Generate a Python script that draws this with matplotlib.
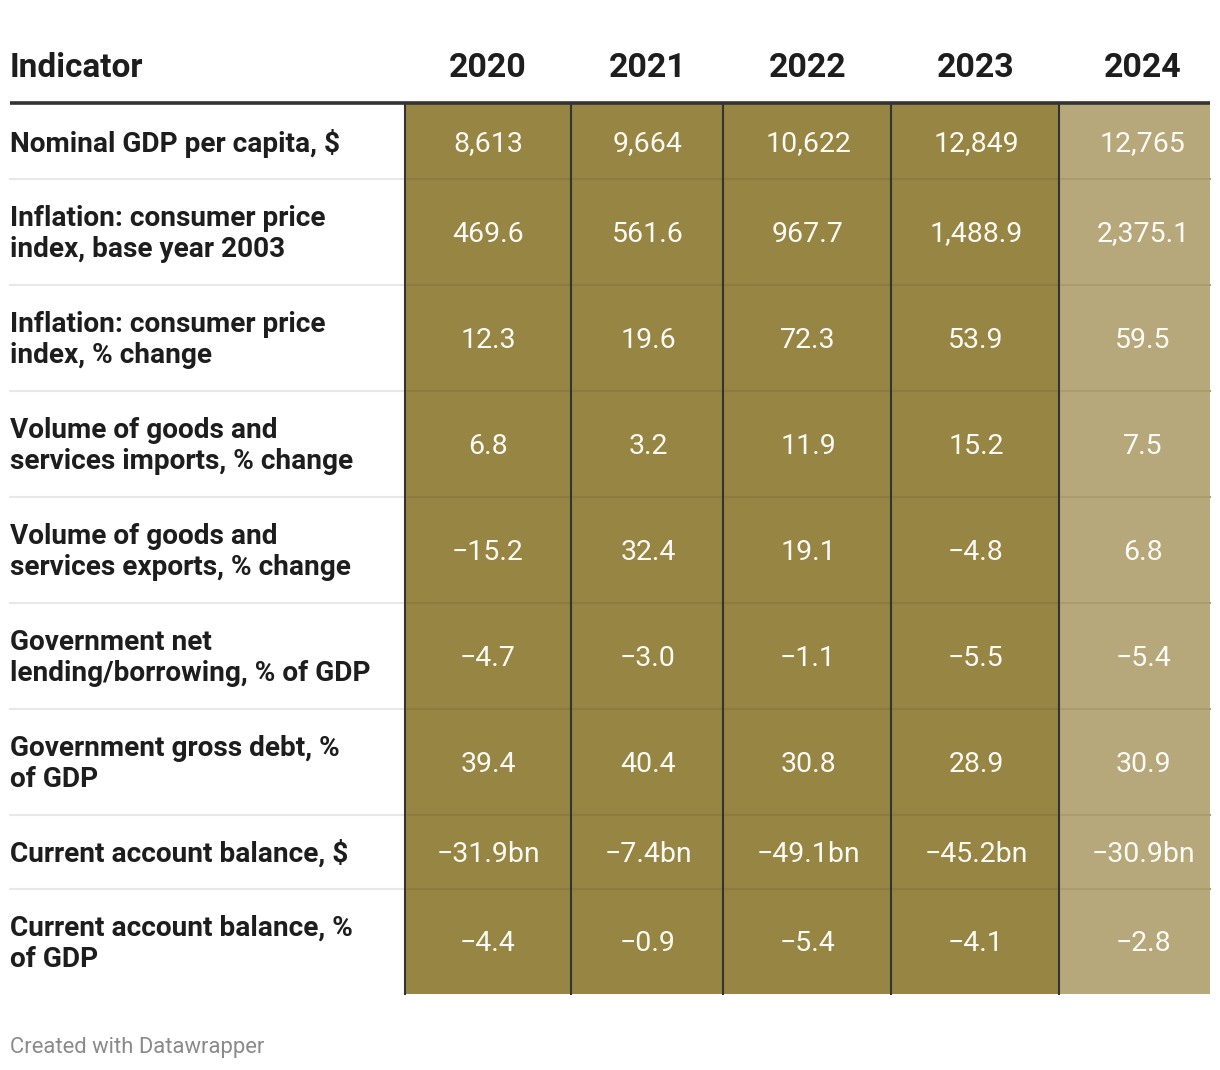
import matplotlib.pyplot as plt
from matplotlib.patches import Rectangle

# table content
years = ["2020", "2021", "2022", "2023", "2024"]
indicators = [
    "Nominal GDP per capita, $",
    "Inflation: consumer price\nindex, base year 2003",
    "Inflation: consumer price\nindex, % change",
    "Volume of goods and\nservices imports, % change",
    "Volume of goods and\nservices exports, % change",
    "Government net\nlending/borrowing, % of GDP",
    "Government gross debt, %\nof GDP",
    "Current account balance, $",
    "Current account balance, %\nof GDP",
]
values = [
    ["8,613", "9,664", "10,622", "12,849", "12,765"],
    ["469.6", "561.6", "967.7", "1,488.9", "2,375.1"],
    ["12.3", "19.6", "72.3", "53.9", "59.5"],
    ["6.8", "3.2", "11.9", "15.2", "7.5"],
    ["\u221215.2", "32.4", "19.1", "\u22124.8", "6.8"],
    ["\u22124.7", "\u22123.0", "\u22121.1", "\u22125.5", "\u22125.4"],
    ["39.4", "40.4", "30.8", "28.9", "30.9"],
    ["\u221231.9bn", "\u22127.4bn", "\u221249.1bn", "\u221245.2bn", "\u221230.9bn"],
    ["\u22124.4", "\u22120.9", "\u22125.4", "\u22124.1", "\u22122.8"],
]
col_colors = ["#978543", "#978543", "#978543", "#978543", "#b6a87b"]
sep_colors = ["#8c7b3c", "#8c7b3c", "#8c7b3c", "#8c7b3c", "#aa9c6f"]

# layout (pixels)
W, H = 1220, 1070
col_edges = [405, 571, 723, 891, 1059, 1210]
col_centers = [488, 648, 808, 976, 1143]
row_edges = [104, 179, 285, 391, 497, 603, 709, 815, 889, 994]

plt.rcParams['font.family'] = ['Roboto', 'DejaVu Sans']

fig = plt.figure(figsize=(W / 100, H / 100), dpi=100)
ax = fig.add_axes([0, 0, 1, 1])
ax.set_xlim(0, W)
ax.set_ylim(H, 0)
ax.axis('off')

# coloured columns
for j in range(len(years)):
    x0, x1 = col_edges[j], col_edges[j + 1]
    ax.add_patch(Rectangle((x0, row_edges[0]), x1 - x0, row_edges[-1] - row_edges[0],
                           facecolor=col_colors[j], edgecolor='none', zorder=1))
    for y in row_edges[1:-1]:
        ax.plot([x0, x1], [y, y], color=sep_colors[j], lw=1.5, zorder=2)

# row separators in label column
for y in row_edges[1:-1]:
    ax.plot([10, col_edges[0]], [y, y], color="#e8e8e8", lw=1.5, zorder=2)

# vertical dividers
for x in col_edges[:-1]:
    ax.plot([x, x], [row_edges[0], row_edges[-1]], color="#333333", lw=1.5, zorder=3)

# header rule
ax.plot([10, 1210], [103, 103], color="#333333", lw=2.6, zorder=4, solid_capstyle='butt')

# header
ax.text(10, 68, "Indicator", ha='left', va='center', fontsize=24, fontweight='bold', color="#1d1d1d")
for j, yr in enumerate(years):
    ax.text(col_centers[j], 68, yr, ha='center', va='center', fontsize=24.5,
            fontweight='bold', color="#1d1d1d")

# rows
for i, label in enumerate(indicators):
    yc = (row_edges[i] + row_edges[i + 1]) / 2 + 2
    ax.text(10, yc, label, ha='left', va='center', fontsize=20.2, fontweight='bold',
            color="#1d1d1d", linespacing=1.2)
    for j in range(len(years)):
        ax.text(col_centers[j], yc, values[i][j], ha='center', va='center', fontsize=20.5,
                fontweight='normal', color="#fbfaf5")

# footer
ax.text(10, 1047, "Created with Datawrapper", ha='left', va='center', fontsize=15.8, color="#8a8a8a")

fig.savefig("out.png", dpi=100)
